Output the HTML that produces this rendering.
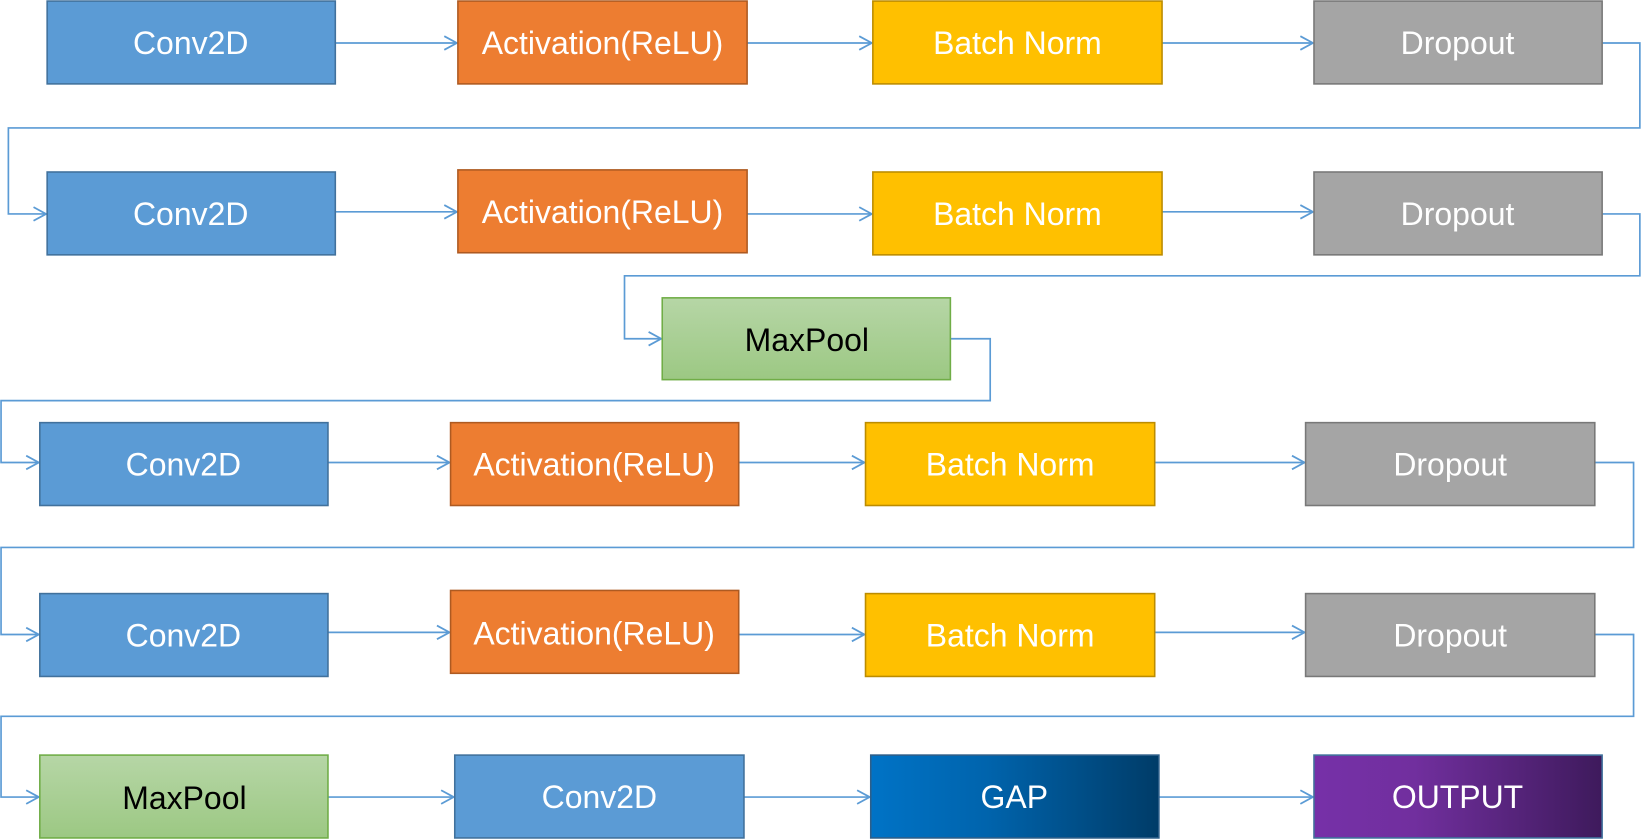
<!DOCTYPE html>
<html><head><meta charset="utf-8"><style>
html,body{margin:0;padding:0;background:#fff;width:1643px;height:839px;overflow:hidden}
svg{display:block}
text{font-family:"Liberation Sans",sans-serif;font-size:30.5px;text-anchor:middle;dominant-baseline:central}
</style></head><body>
<svg width="1643" height="839" viewBox="0 0 1568 800" preserveAspectRatio="none">
<defs>
<linearGradient id="g" x1="0" y1="0" x2="0" y2="1"><stop offset="0" stop-color="#b6d6a6"/><stop offset="1" stop-color="#9cc883"/></linearGradient>
<linearGradient id="gap" x1="0" y1="0" x2="1" y2="0"><stop offset="0" stop-color="#0073c6"/><stop offset="0.4" stop-color="#0064ad"/><stop offset="1" stop-color="#003c68"/></linearGradient>
<linearGradient id="out" x1="0" y1="0" x2="1" y2="0"><stop offset="0" stop-color="#7630a8"/><stop offset="0.35" stop-color="#712f9e"/><stop offset="1" stop-color="#3e1a5c"/></linearGradient>
<marker id="a" markerWidth="16" markerHeight="16" refX="13" refY="8" orient="auto" markerUnits="userSpaceOnUse"><path d="M1,1.5 L13,8 L1,14.5" fill="none" stroke="#5b9bd5" stroke-width="1.7"/></marker>
</defs>
<g fill="none" stroke="#5b9bd5" stroke-width="1.6">
<path d="M320,41H436" marker-end="url(#a)"/>
<path d="M713,41H832" marker-end="url(#a)"/>
<path d="M1109,41H1253" marker-end="url(#a)"/>
<path d="M1529,41H1565V122H8V204H44" marker-end="url(#a)"/>
<path d="M320,202H436" marker-end="url(#a)"/>
<path d="M713,204H832" marker-end="url(#a)"/>
<path d="M1109,202H1253" marker-end="url(#a)"/>
<path d="M1529,204H1565V263H596V323H631" marker-end="url(#a)"/>
<path d="M907,323H945V382H1V441H37" marker-end="url(#a)"/>
<path d="M313,441H429" marker-end="url(#a)"/>
<path d="M705,441H825" marker-end="url(#a)"/>
<path d="M1102,441H1245" marker-end="url(#a)"/>
<path d="M1522,441H1559V522H1V605H37" marker-end="url(#a)"/>
<path d="M313,603H429" marker-end="url(#a)"/>
<path d="M705,605H825" marker-end="url(#a)"/>
<path d="M1102,603H1245" marker-end="url(#a)"/>
<path d="M1522,605H1559V683H1V760H37" marker-end="url(#a)"/>
<path d="M313,760H433" marker-end="url(#a)"/>
<path d="M710,760H830" marker-end="url(#a)"/>
<path d="M1106,760H1253" marker-end="url(#a)"/>
</g>
<g stroke-width="1.5">
<rect x="45" y="1" width="275" height="79" fill="#5b9bd5" stroke="#41719c"/>
<rect x="437" y="1" width="276" height="79" fill="#ed7d31" stroke="#ae5a21"/>
<rect x="833" y="1" width="276" height="79" fill="#ffc000" stroke="#bc8c00"/>
<rect x="1254" y="1" width="275" height="79" fill="#a5a5a5" stroke="#787878"/>
<rect x="45" y="164" width="275" height="79" fill="#5b9bd5" stroke="#41719c"/>
<rect x="437" y="162" width="276" height="79" fill="#ed7d31" stroke="#ae5a21"/>
<rect x="833" y="164" width="276" height="79" fill="#ffc000" stroke="#bc8c00"/>
<rect x="1254" y="164" width="275" height="79" fill="#a5a5a5" stroke="#787878"/>
<rect x="632" y="284" width="275" height="78" fill="url(#g)" stroke="#70ad47"/>
<rect x="38" y="403" width="275" height="79" fill="#5b9bd5" stroke="#41719c"/>
<rect x="430" y="403" width="275" height="79" fill="#ed7d31" stroke="#ae5a21"/>
<rect x="826" y="403" width="276" height="79" fill="#ffc000" stroke="#bc8c00"/>
<rect x="1246" y="403" width="276" height="79" fill="#a5a5a5" stroke="#787878"/>
<rect x="38" y="566" width="275" height="79" fill="#5b9bd5" stroke="#41719c"/>
<rect x="430" y="563" width="275" height="79" fill="#ed7d31" stroke="#ae5a21"/>
<rect x="826" y="566" width="276" height="79" fill="#ffc000" stroke="#bc8c00"/>
<rect x="1246" y="566" width="276" height="79" fill="#a5a5a5" stroke="#787878"/>
<rect x="38" y="720" width="275" height="79" fill="url(#g)" stroke="#70ad47"/>
<rect x="434" y="720" width="276" height="79" fill="#5b9bd5" stroke="#41719c"/>
<rect x="831" y="720" width="275" height="79" fill="url(#gap)" stroke="#2e5f8a"/>
<rect x="1254" y="720" width="275" height="79" fill="url(#out)" stroke="#41719c"/>
</g>
<g fill="#fff">
<text x="182" y="41">Conv2D</text><text x="575" y="41">Activation(ReLU)</text><text x="971" y="41">Batch Norm</text><text x="1391" y="41">Dropout</text>
<text x="182" y="204">Conv2D</text><text x="575" y="202">Activation(ReLU)</text><text x="971" y="204">Batch Norm</text><text x="1391" y="204">Dropout</text>
<text x="175" y="443">Conv2D</text><text x="567" y="443">Activation(ReLU)</text><text x="964" y="443">Batch Norm</text><text x="1384" y="443">Dropout</text>
<text x="175" y="606">Conv2D</text><text x="567" y="604">Activation(ReLU)</text><text x="964" y="606">Batch Norm</text><text x="1384" y="606">Dropout</text>
<text x="572" y="760">Conv2D</text><text x="968" y="760">GAP</text><text x="1391" y="760">OUTPUT</text>
</g>
<g fill="#000">
<text x="770" y="324">MaxPool</text><text x="176" y="761">MaxPool</text>
</g>
</svg>
</body></html>
